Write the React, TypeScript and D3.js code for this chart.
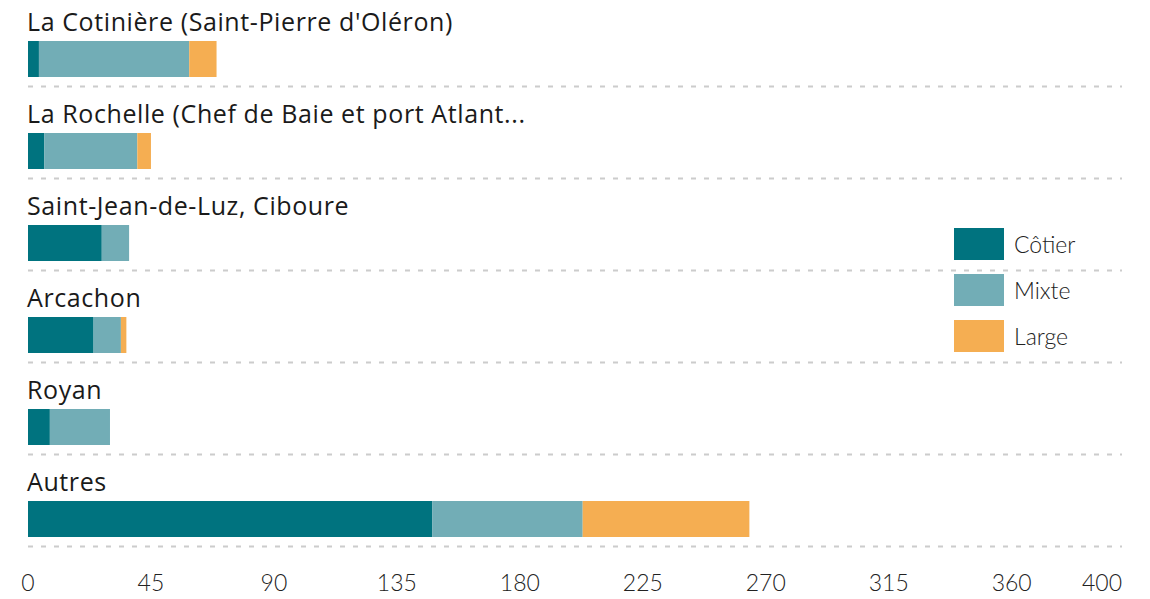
import React from 'react'
import * as d3 from 'd3'

const ports = [
  "La Cotinière (Saint-Pierre d'Oléron)",
  'La Rochelle (Chef de Baie et port Atlant...',
  'Saint-Jean-de-Luz, Ciboure',
  'Arcachon',
  'Royan',
  'Autres',
]
const cotier = [4, 6, 27, 24, 8, 148]
const mixte = [55, 34, 10, 10, 22, 55]
const large = [10, 5, 0, 2, 0, 61]
const seriesNames = ['Côtier', 'Mixte', 'Large']
const colors = ['#00737f', '#72adb6', '#f5ae52']
const tickValues = [0, 45, 90, 135, 180, 225, 270, 315, 360, 400]

const W = 1150
const H = 599
const font = 'Lato, "Noto Sans", sans-serif'
const labelFont = '"Open Sans", "Noto Sans", sans-serif'

export default function App() {
  const x = d3.scaleLinear().domain([0, 400]).range([28, 1121])
  const rowH = 92
  const firstTop = 41
  const barH = 36

  const rows = ports.map((p, i) => ({ port: p, values: [cotier[i], mixte[i], large[i]] }))

  return (
    <svg width={W} height={H} style={{ position: 'absolute', left: 0, top: 0 }}>
      {rows.map((r, i) => {
        const top = firstTop + i * rowH
        let acc = 0
        return (
          <g key={r.port}>
            <text
              x={27}
              y={top - 10}
              fontFamily={labelFont}
              fontSize={25}
              fontWeight={400}
              letterSpacing={0.6}
              fill="#1a1a1a"
            >
              {r.port}
            </text>
            {r.values.map((v, j) => {
              const x0 = x(acc)
              acc += v
              if (v === 0) return null
              return (
                <rect key={j} x={x0} y={top} width={x(acc) - x0} height={barH} fill={colors[j]} />
              )
            })}
            <line
              x1={28}
              x2={1122}
              y1={top + barH + 9.5}
              y2={top + barH + 9.5}
              stroke="#cccccc"
              strokeWidth={2}
              strokeDasharray="5,8"
            />
          </g>
        )
      })}
      {tickValues.map((t, i) => (
        <text
          key={t}
          x={x(t)}
          y={591}
          textAnchor={i === tickValues.length - 1 ? 'end' : 'middle'}
          dx={i === tickValues.length - 1 ? 1 : 0}
          fontFamily={font}
          fontWeight={300}
          fontSize={23}
          fill="#222"
        >
          {t}
        </text>
      ))}
      {seriesNames.map((s, i) => (
        <g key={s}>
          <rect x={954} y={228 + i * 46} width={50} height={32} fill={colors[i]} />
          <text x={1014} y={253 + i * 46} fontFamily={font} fontWeight={300} fontSize={23} fill="#222">
            {s}
          </text>
        </g>
      ))}
    </svg>
  )
}
